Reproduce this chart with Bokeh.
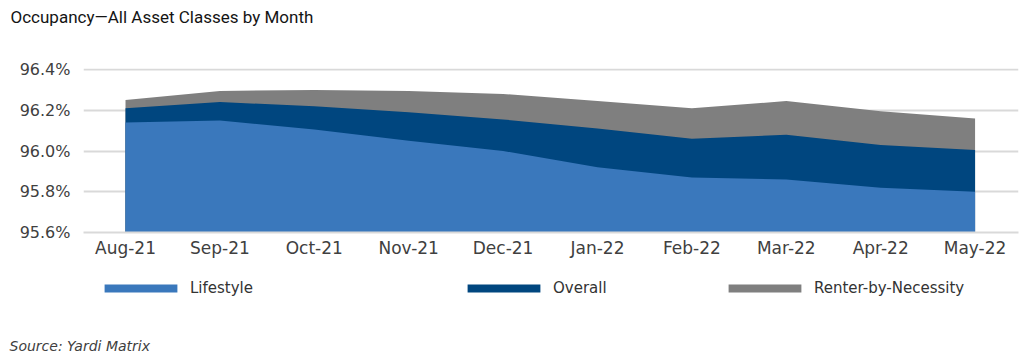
from bokeh.plotting import figure
from bokeh.layouts import column
from bokeh.models import (FixedTicker, Legend, LegendItem, Label, Range1d, ColumnDataSource)
from bokeh.embed import file_html
from bokeh.resources import INLINE

months = ["Aug-21", "Sep-21", "Oct-21", "Nov-21", "Dec-21",
          "Jan-22", "Feb-22", "Mar-22", "Apr-22", "May-22"]
lifestyle = [96.14, 96.15, 96.105, 96.05, 96.0, 95.92, 95.87, 95.86, 95.82, 95.80]
overall = [96.21, 96.24, 96.22, 96.19, 96.155, 96.11, 96.06, 96.08, 96.03, 96.005]
rbn = [96.25, 96.295, 96.30, 96.295, 96.28, 96.245, 96.21, 96.245, 96.195, 96.16]
y_ticks = [95.6, 95.8, 96.0, 96.2, 96.4]
series_names = ["Lifestyle", "Overall", "Renter-by-Necessity"]
colors = ["#3a78bc", "#00467f", "#7f7f7f"]

TITLE = "Occupancy\u2014All Asset Classes by Month"
SOURCE = "Source: Yardi Matrix"
FONT = "DejaVu Sans"
TITLE_FONT = "Roboto"
W = 1024


def blank(height):
    f = figure(width=W, height=height, output_backend="svg", toolbar_location=None,
               x_range=Range1d(0, W), y_range=Range1d(0, height),
               min_border=0, min_border_left=0, min_border_right=0,
               min_border_top=0, min_border_bottom=0, frame_align=False)
    f.axis.visible = False
    f.grid.visible = False
    f.outline_line_color = None
    return f


# ---- title strip
top = blank(30)
top.add_layout(Label(x=10, y=14, x_units="screen", y_units="screen", text=TITLE,
                     text_font=TITLE_FONT, text_font_size="17px", text_color="#141414",
                     text_baseline="alphabetic", text_align="left"))

# ---- main chart
xs = list(range(len(months)))
base = y_ticks[0]
src = ColumnDataSource(dict(x=xs, lifestyle=lifestyle, overall=overall, rbn=rbn,
                            base=[base] * len(xs)))

main = figure(width=W, height=245, output_backend="svg", toolbar_location=None,
              x_range=Range1d(-0.445, 9.46), y_range=Range1d(y_ticks[0], y_ticks[-1] + 0.005),
              min_border_left=83, min_border_right=6, min_border_top=38, min_border_bottom=43,
              frame_align=False)
main.outline_line_color = None

main.varea(x="x", y1="base", y2="rbn", source=src, fill_color=colors[2])
main.varea(x="x", y1="base", y2="overall", source=src, fill_color=colors[1])
main.varea(x="x", y1="base", y2="lifestyle", source=src, fill_color=colors[0])

main.xaxis.ticker = FixedTicker(ticks=xs)
main.xaxis.major_label_overrides = {i: m for i, m in zip(xs, months)}
main.xaxis.major_tick_line_color = None
main.xaxis.minor_tick_line_color = None
main.xaxis.axis_line_color = "#d9d9d9"
main.xaxis.axis_line_width = 2
main.xaxis.major_label_text_font = FONT
main.xaxis.major_label_text_font_size = "17px"
main.xaxis.major_label_text_color = "#404040"
main.xaxis.major_label_standoff = -1

main.yaxis.ticker = FixedTicker(ticks=y_ticks)
main.yaxis.major_label_overrides = {t: f"{t:.1f}%" for t in y_ticks}
main.yaxis.axis_line_color = None
main.yaxis.major_tick_line_color = None
main.yaxis.minor_tick_line_color = None
main.yaxis.major_label_text_font = FONT
main.yaxis.major_label_text_font_size = "16px"
main.yaxis.major_label_text_color = "#404040"
main.yaxis.major_label_standoff = 7

main.xgrid.grid_line_color = None
main.ygrid.ticker = FixedTicker(ticks=y_ticks)
main.ygrid.grid_line_color = "#d9d9d9"
main.ygrid.grid_line_width = 2

# ---- legend + source strip
bot = blank(83)
legend_pos = [(95, 61), (458, 61), (719, 61)]
for name, col, loc in zip(series_names, colors, legend_pos):
    proxy = bot.varea(x=[0], y1=[0], y2=[0], fill_color=col)
    lg = Legend(items=[LegendItem(label=name, renderers=[proxy])], location=loc,
                orientation="horizontal", glyph_width=91, glyph_height=10,
                label_standoff=4, padding=0, margin=0, spacing=0,
                border_line_color=None, background_fill_alpha=0,
                label_text_font=FONT, label_text_font_size="15px",
                label_text_color="#333333")
    bot.add_layout(lg, "center")

bot.add_layout(Label(x=9, y=13, x_units="screen", y_units="screen", text=SOURCE,
                     text_font=FONT, text_font_size="14px", text_font_style="italic",
                     text_color="#404040", text_baseline="middle", text_align="left"))

page = column(top, main, bot, spacing=0)
open("out.html", "w").write(file_html(page, INLINE))
